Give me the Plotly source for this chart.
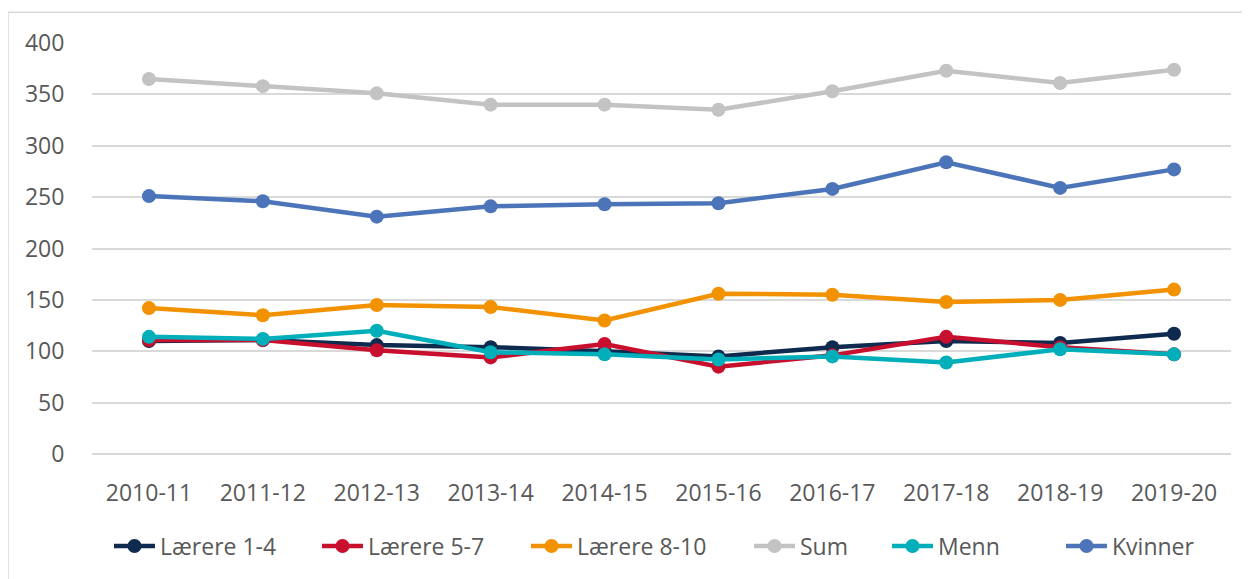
import plotly.graph_objects as go

categories = ["2010-11", "2011-12", "2012-13", "2013-14", "2014-15",
              "2015-16", "2016-17", "2017-18", "2018-19", "2019-20"]

laerere_1_4 = [110, 111, 106, 104, 100, 95, 104, 110, 108, 117]
laerere_5_7 = [111, 111, 101, 94, 107, 85, 96, 114, 104, 97]
laerere_8_10 = [142, 135, 145, 143, 130, 156, 155, 148, 150, 160]
sum_total = [365, 358, 351, 340, 340, 335, 353, 373, 361, 374]
menn = [114, 112, 120, 99, 97, 92, 95, 89, 102, 97]
kvinner = [251, 246, 231, 241, 243, 244, 258, 284, 259, 277]

series = [
    ("Lærere 1-4", laerere_1_4, "#0e2a4f"),
    ("Lærere 5-7", laerere_5_7, "#c8102e"),
    ("Lærere 8-10", laerere_8_10, "#f39200"),
    ("Sum", sum_total, "#c3c3c3"),
    ("Menn", menn, "#00afba"),
    ("Kvinner", kvinner, "#4c74b9"),
]

# page body has an 8px margin
W, H = 1242, 571
L, T = 84, 35
pw, ph = 1139, 415
R = W - L - pw
B = H - T - ph

# legend marker centres (figure px)
legend_px = [121, 329, 538, 761, 899, 1073]

fig = go.Figure()
legend_layouts = {}
for i, (name, vals, col) in enumerate(series):
    lname = "legend" if i == 0 else f"legend{i + 1}"
    fig.add_trace(go.Scatter(
        x=categories, y=vals, name=name, mode="lines+markers",
        line=dict(color=col, width=4.5),
        marker=dict(color=col, size=14),
        legend=lname,
    ))
    legend_layouts[lname] = dict(
        orientation="h", x=(legend_px[i] - 20 - L) / pw, xanchor="left",
        y=-93 / ph, yanchor="middle", itemwidth=41,
        font=dict(family="Open Sans", size=23, color="#595959"),
        bgcolor="rgba(0,0,0,0)", borderwidth=0,
    )

fig.update_layout(
    width=W, height=H,
    margin=dict(l=L, r=R, t=T, b=B),
    paper_bgcolor="white", plot_bgcolor="white",
    font=dict(family="Open Sans", size=23, color="#595959"),
    showlegend=True,
    xaxis=dict(type="category", range=[-0.5, 9.5], showgrid=False,
               showline=False, zeroline=False, ticks="outside",
               ticklen=18, tickcolor="rgba(0,0,0,0)",
               tickfont=dict(size=23, color="#595959")),
    yaxis=dict(range=[0, 400], dtick=50, showgrid=True, gridcolor="#d9d9d9",
               gridwidth=1.5, zeroline=True, zerolinecolor="#d9d9d9",
               zerolinewidth=1.5, showline=False, ticks="outside",
               ticklen=22, tickcolor="rgba(0,0,0,0)",
               tickfont=dict(size=23, color="#595959")),
    shapes=[dict(type="rect", xref="paper", yref="paper",
                 x0=-L / pw, x1=(W + 10 - L) / pw,
                 y0=-(H + 10 - (T + ph)) / ph, y1=(T + ph - 4) / ph,
                 line=dict(color="#d9d9d9", width=1.5),
                 fillcolor="rgba(0,0,0,0)", layer="below")],
    **legend_layouts,
)

fig.write_html("out.html")
